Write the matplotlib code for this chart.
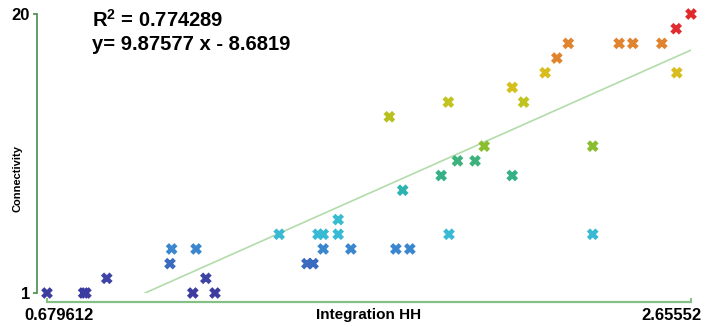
import matplotlib
matplotlib.use("Agg")
import matplotlib.pyplot as plt
import numpy as np
from matplotlib.colors import LinearSegmentedColormap, Normalize

plt.rcParams['font.family'] = ['Liberation Sans', 'DejaVu Sans']
plt.rcParams['mathtext.fontset'] = 'custom'
plt.rcParams['mathtext.rm'] = 'Liberation Sans'
plt.rcParams['mathtext.bf'] = 'Liberation Sans:bold'

# Integration HH vs connectivity for each space
integration = [0.679612, 0.792, 0.799, 0.863, 1.057, 1.062, 1.137, 1.167, 1.127, 1.195,
               1.392, 1.511, 1.527, 1.573, 1.573, 1.913, 1.527, 1.612, 1.750, 1.793,
               1.477, 1.496, 1.730, 1.911, 2.107, 2.142, 2.021, 1.939, 1.993, 1.889,
               2.107, 1.771, 2.65552, 2.610, 2.279, 2.435, 2.477, 2.566, 2.244, 2.208,
               2.612, 2.354, 2.354]
connectivity = [1, 1, 1, 2, 3, 4, 4, 2, 1, 1,
                5, 5, 5, 6, 5, 5, 4, 4, 4, 4,
                3, 3, 13, 14, 15, 14, 11, 10, 10, 9,
                9, 8, 20, 19, 18, 18, 18, 18, 17, 16,
                16, 11, 5]

r_squared = 0.774289
slope = 9.87577
intercept = -8.6819
x_min, x_max = 0.679612, 2.65552
y_min, y_max = 1, 20

# colour ramp from dark blue (low connectivity) to red (high)
ramp = [(1, '#3c3ca0'), (2, '#3e44a6'), (3, '#3a6ec0'), (4, '#3a86cf'), (5, '#38bcd4'),
        (6, '#38bcd0'), (8, '#2eb4b0'), (9, '#36b084'), (10, '#3cb27e'), (11, '#8cbe2e'),
        (13, '#b8c020'), (14, '#bec41e'), (15, '#d4c01c'), (16, '#d8c01c'), (17, '#e0842e'),
        (18, '#e08a30'), (19, '#e02c30'), (20, '#e02a2a')]
cmap = LinearSegmentedColormap.from_list(
    'conn', [((v - 1) / 19, c) for v, c in ramp])

fig = plt.figure(figsize=(7.07, 3.27), dpi=100)
ax = fig.add_axes([47 / 707, 34 / 327, 644 / 707, 279 / 327])

# regression line, drawn only where it stays above the bottom of the axis
x_start = (y_min - intercept) / slope
xs = np.array([x_start, x_max])
ax.plot(xs, slope * xs + intercept, color='#b2dcaa', lw=1.2, zorder=1)

ax.scatter(integration, connectivity, c=connectivity, cmap=cmap,
           norm=Normalize(1, 20), marker='x', s=38, linewidths=3.2,
           clip_on=False, zorder=3)

ax.set_xlim(x_min, x_max)
ax.set_ylim(y_min, y_max)

for side in ['top', 'right']:
    ax.spines[side].set_visible(False)
ax.spines['left'].set_position(('outward', 7.2))
ax.spines['bottom'].set_position(('outward', 6.5))
ax.spines['left'].set_color('#4a8c4a')
ax.spines['left'].set_linewidth(1.2)
ax.spines['bottom'].set_color('#84bf84')
ax.spines['bottom'].set_linewidth(1.6)

ax.set_yticks([1, 20])
ax.set_yticklabels(['1', '20'], fontsize=12, fontweight='bold')
ax.tick_params(axis='y', direction='out', length=3, width=1.2, color='#4a8c4a', pad=2)

ax.set_xticks([x_min, x_max])
ax.set_xticklabels([])
ax.tick_params(axis='x', direction='in', length=3, width=1.4, color='#84bf84')

# end labels of the x axis
ax.annotate('0.679612', xy=(x_min, 0), xycoords=('data', 'axes fraction'),
            xytext=(12, -22), textcoords='offset pixels', ha='center', va='center',
            fontsize=12, fontweight='bold')
ax.annotate('2.65552', xy=(x_max, 0), xycoords=('data', 'axes fraction'),
            xytext=(-50, -22), textcoords='offset pixels', ha='left', va='center',
            fontsize=12, fontweight='bold', annotation_clip=False)

ax.set_xlabel('Integration HH', fontsize=11, fontweight='bold')
ax.xaxis.set_label_coords(0.5, -0.079)
ax.xaxis.label.set_va('center')
ax.set_ylabel('Connectivity', fontsize=8, fontweight='bold')
ax.yaxis.set_label_coords(-0.046, 0.41)
ax.yaxis.label.set_va('center')

fig.text(92 / 707, 1 - 20 / 327, r'$\mathbf{R^2}$ = ' + f'{r_squared}', fontsize=14.5,
         fontweight='bold', va='center', ha='left')
fig.text(92 / 707, 1 - 45 / 327, f'y= {slope} x - {abs(intercept)}', fontsize=14.5,
         fontweight='bold', va='center', ha='left')

fig.savefig('out.png', dpi=100)
